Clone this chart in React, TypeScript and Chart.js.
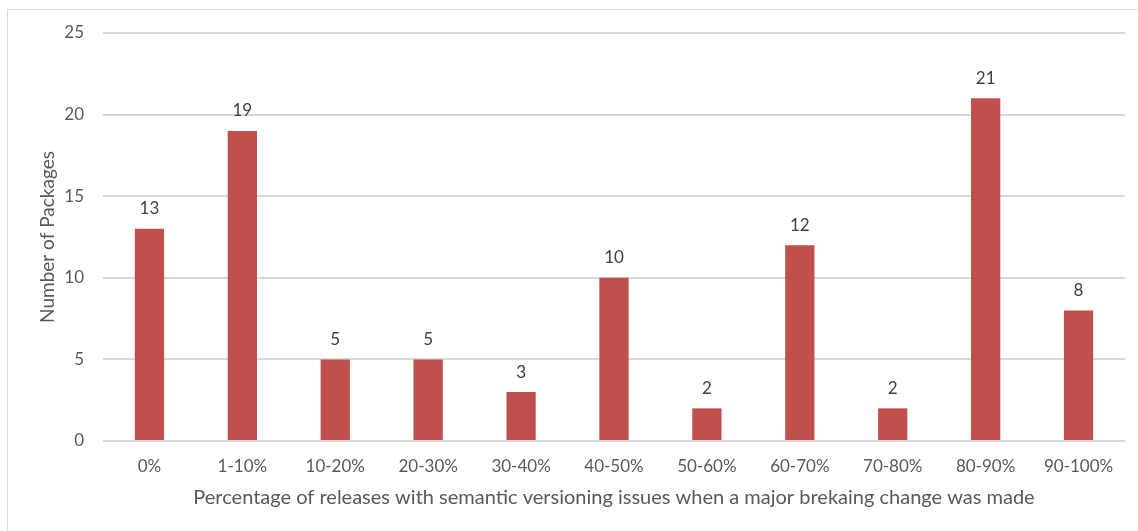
import React, { useEffect, useRef } from "react";
import { Chart, registerables } from "chart.js";

Chart.register(...registerables);

const categories = [
  "0%",
  "1-10%",
  "10-20%",
  "20-30%",
  "30-40%",
  "40-50%",
  "50-60%",
  "60-70%",
  "70-80%",
  "80-90%",
  "90-100%",
];
const packageCounts = [13, 19, 5, 5, 3, 10, 2, 12, 2, 21, 8];
const yTickValues = [0, 5, 10, 15, 20, 25];

const xTitle =
  "Percentage of releases with semantic versioning issues when a major brekaing change was made";
const yTitle = "Number of Packages";

const FONT = "Lato, 'Open Sans', sans-serif";
const TEXT = "#595959";
const BAR = "#C0504D";
const GRID = "#D9D9D9";

// Writes each bar's value just above it
const valueLabels = {
  id: "valueLabels",
  afterDatasetsDraw(chart: any) {
    const ctx = chart.ctx;
    const meta = chart.getDatasetMeta(0);
    ctx.save();
    ctx.font = `17px ${FONT}`;
    ctx.fillStyle = "#404040";
    ctx.textAlign = "center";
    ctx.textBaseline = "middle";
    meta.data.forEach((bar: any, i: number) => {
      ctx.fillText(String(chart.data.datasets[0].data[i]), bar.x, bar.y - 20);
    });
    ctx.restore();
  },
};

export default function App() {
  const canvasRef = useRef<HTMLCanvasElement | null>(null);

  useEffect(() => {
    if (!canvasRef.current) return;
    const chart = new Chart(canvasRef.current, {
      type: "bar",
      data: {
        labels: categories,
        datasets: [
          {
            data: packageCounts,
            backgroundColor: BAR,
            borderWidth: 0,
            categoryPercentage: 1,
            barPercentage: 0.315,
          },
        ],
      },
      options: {
        animation: false,
        responsive: false,
        devicePixelRatio: 1,
        layout: { padding: { top: 33, right: 13, left: 0, bottom: 0 } },
        plugins: {
          legend: { display: false },
          tooltip: { enabled: false },
        },
        scales: {
          x: {
            grid: { display: false, drawTicks: false },
            border: { display: false },
            ticks: {
              color: TEXT,
              font: { family: FONT, size: 17 },
              padding: 15,
              maxRotation: 0,
              autoSkip: false,
            },
            title: {
              display: true,
              text: xTitle,
              color: TEXT,
              font: { family: FONT, size: 20 },
              padding: { top: 0, bottom: 21 },
            },
            afterFit(scale: any) {
              scale.height = 90;
            },
          },
          y: {
            min: 0,
            max: 25,
            afterBuildTicks(scale: any) {
              scale.ticks = yTickValues.map((v) => ({ value: v }));
            },
            grid: { color: GRID, lineWidth: 2, drawTicks: false },
            border: { display: false },
            ticks: {
              color: TEXT,
              font: { family: FONT, size: 17 },
              padding: 19,
            },
            title: {
              display: true,
              text: yTitle,
              color: TEXT,
              font: { family: FONT, size: 19 },
              padding: { top: 36, bottom: 0 },
            },
            afterFit(scale: any) {
              scale.width = 103;
            },
          },
        },
      },
      plugins: [valueLabels],
    });
    return () => chart.destroy();
  }, []);

  return (
    <div style={{ position: "fixed", left: 0, top: 0, width: 1138, height: 531, background: "#fff" }}>
      <div
        style={{
          position: "absolute",
          left: 7,
          top: 9,
          width: 1140,
          height: 530,
          borderLeft: `1px solid ${GRID}`,
          borderTop: `1px solid ${GRID}`,
        }}
      />
      <canvas
        ref={canvasRef}
        width={1138}
        height={531}
        style={{ position: "absolute", left: 0, top: 0, display: "block" }}
      />
    </div>
  );
}
